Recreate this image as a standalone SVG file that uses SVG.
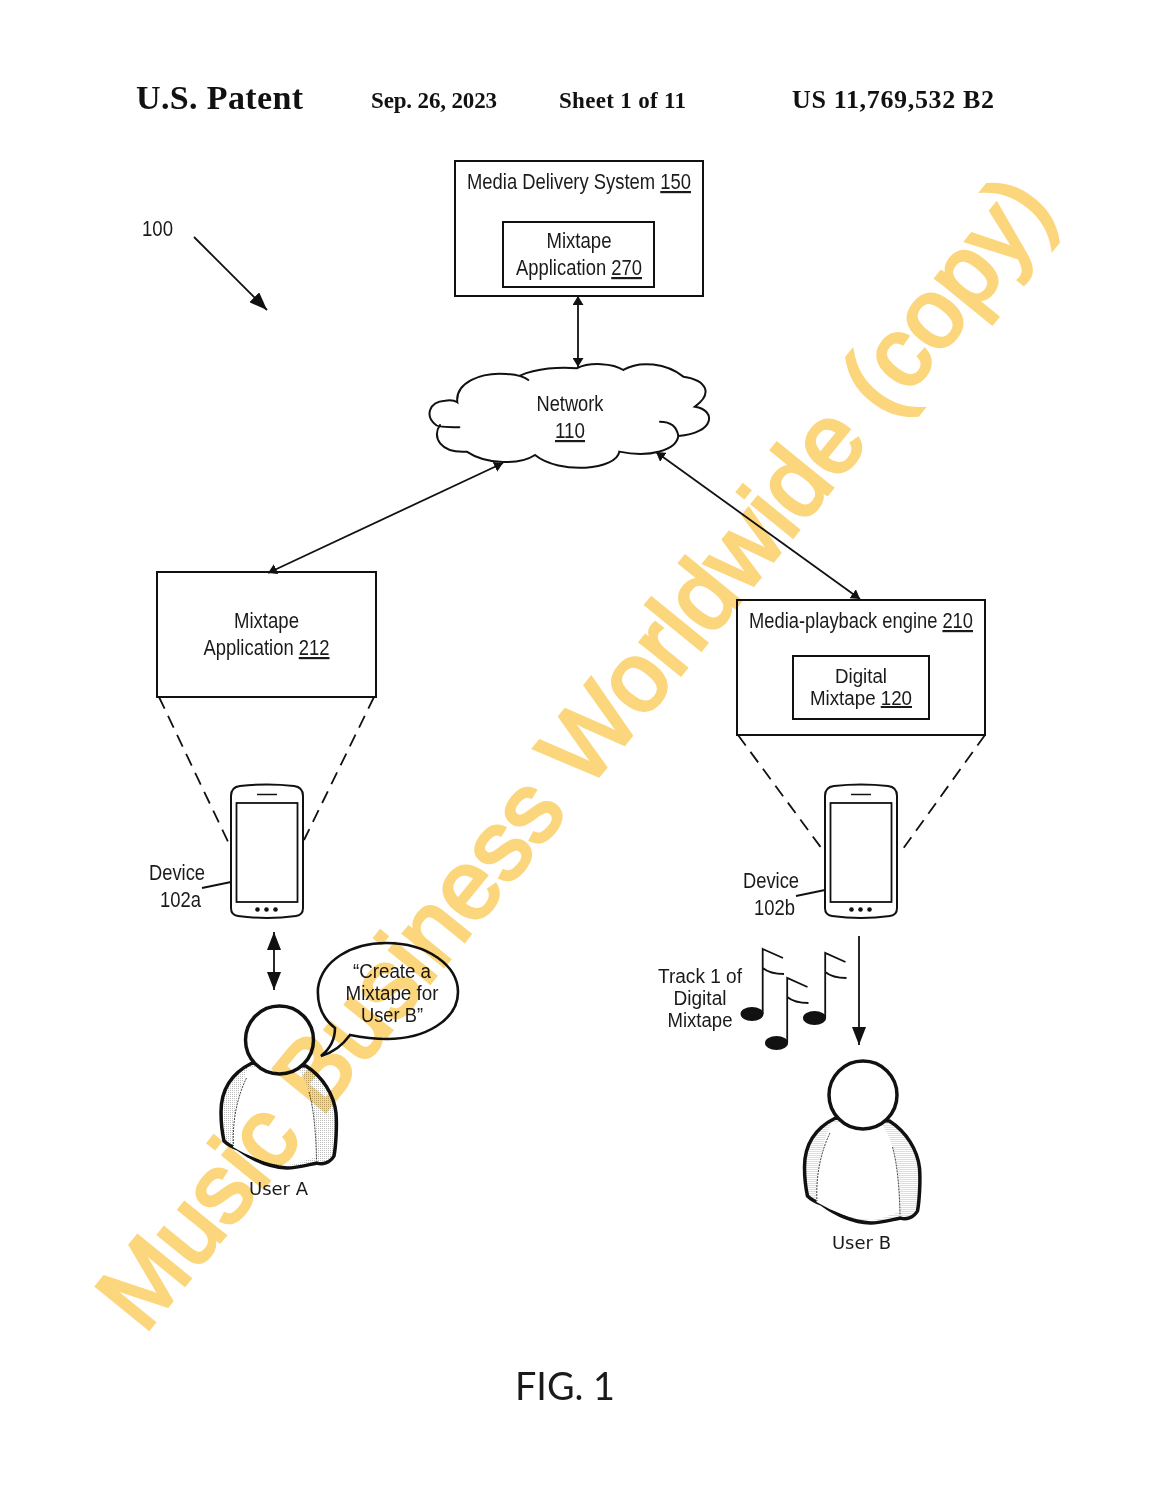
<svg xmlns="http://www.w3.org/2000/svg" xmlns:xlink="http://www.w3.org/1999/xlink" width="1152" height="1488" viewBox="0 0 1152 1488">
<style>
text{font-family:"Liberation Sans",Arial,sans-serif;fill:#1a1a1a;font-size:22px}
.m{text-anchor:middle}
.h{font-family:"Liberation Serif","Times New Roman",serif;font-weight:bold;fill:#111}
.t{font-family:"DejaVu Sans",Verdana,sans-serif;font-size:18px}
.u{text-decoration:underline}
.b{fill:none;stroke:#111;stroke-width:2}
.l{fill:none;stroke:#111;stroke-width:1.8}
.d{fill:none;stroke:#111;stroke-width:1.8;stroke-dasharray:13 8}
.wm{font-family:"Liberation Sans",Arial,sans-serif;font-size:98px;fill:#fbd67c;stroke:#fbd67c;stroke-width:3.500;mix-blend-mode:multiply}
</style>
<defs>
<pattern id="st" patternUnits="userSpaceOnUse" width="2" height="2"><rect width="2" height="2" fill="#fff"/><rect width="1" height="1" fill="#bdbdbd"/></pattern>
<marker id="s" markerUnits="userSpaceOnUse" markerWidth="10" markerHeight="11" refX="9" refY="5.500" orient="auto-start-reverse"><path d="M0 0L9 5.500L0 11z" fill="#111"/></marker>
<marker id="g" markerUnits="userSpaceOnUse" markerWidth="20" markerHeight="14" refX="18" refY="7" orient="auto-start-reverse"><path d="M0 0L18 7L0 14z" fill="#111"/></marker>
<g id="phone">
<path d="M231 796Q231 787 240 786Q267 783 294 786Q303 787 303 796V908Q303 915 296 916Q267 920 238 916Q231 915 231 908Z" fill="#fff" stroke="#111" stroke-width="2"/>
<rect x="236.500" y="803" width="61" height="99" fill="#fff" stroke="#111" stroke-width="1.800"/>
<path d="M257 794.500H277" stroke="#111" stroke-width="1.500"/>
<circle cx="257.500" cy="909.500" r="2.300" fill="#111"/><circle cx="266.500" cy="909.500" r="2.300" fill="#111"/><circle cx="275.500" cy="909.500" r="2.300" fill="#111"/>
</g>
<g id="person">
<path d="M252 1063C232 1073 221 1090 221 1112C221 1125 222 1132 224 1141C228 1145 232 1147 238 1149C250 1158 268 1167 287 1168C297 1168 307 1165 317 1163C322 1165 330 1163 334 1156C336 1145 337 1125 336 1113C334 1095 323 1077 306 1066Z" fill="url(#st)" stroke="#111" stroke-width="3.500" stroke-linejoin="round"/>
<path d="M248 1068C240 1085 232 1115 233 1147C250 1157 268 1164 287 1165C296 1165 305 1160 316 1157C316 1135 314 1105 309 1092C306 1080 300 1072 297 1066Z" fill="#fff"/>
<path d="M246.500 1078C238 1095 232 1120 233.500 1146" fill="none" stroke="#444" stroke-width="1" stroke-dasharray="2 1"/>
<path d="M309 1092C314 1110 316 1135 316.500 1160" fill="none" stroke="#444" stroke-width="1" stroke-dasharray="2 1"/>
<circle cx="279.500" cy="1040" r="34" fill="#fff" stroke="#111" stroke-width="3.500"/>
</g>
<g id="note"><ellipse cx="752" cy="1014" rx="11.500" ry="7" fill="#111"/><path d="M762.700 1014V949L783 958M762.700 968Q770 974 784 974" fill="none" stroke="#111" stroke-width="1.800"/></g>
</defs>
<g id="header">
<text class="h" x="136" y="109" style="font-size:34px" textLength="167">U.S. Patent</text>
<text class="h" x="371" y="108" style="font-size:23px" textLength="126">Sep. 26, 2023</text>
<text class="h" x="559" y="108" style="font-size:23px" textLength="127">Sheet 1 of 11</text>
<text class="h" x="792" y="108" style="font-size:26px" textLength="202">US 11,769,532 B2</text>
</g>
<g id="label-100"><text x="142" y="236" textLength="31" lengthAdjust="spacingAndGlyphs">100</text></g>
<g id="connectors">
<path class="l" d="M194 237L267 310" marker-end="url(#g)"/>
<path class="l" d="M578 296V367" marker-start="url(#s)" marker-end="url(#s)"/>
<path class="l" d="M268 573L503 463" marker-start="url(#s)" marker-end="url(#s)"/>
<path class="l" d="M656 452L860 599" marker-start="url(#s)" marker-end="url(#s)"/>
<path class="d" d="M159 697L231 848"/><path class="d" d="M374 697L304 840"/>
<path class="d" d="M738 735L825 853"/><path class="d" d="M985 735L900 853"/>
<path class="l" d="M274 932V990" marker-start="url(#g)" marker-end="url(#g)"/>
<path class="l" d="M859 936V1045" marker-end="url(#g)"/>
<path class="l" d="M202 888L231 882"/><path class="l" d="M796 896L825 890"/>
</g>
<g id="media-delivery-system">
<rect class="b" x="455" y="161" width="248" height="135"/>
<text x="467" y="189" textLength="224" lengthAdjust="spacingAndGlyphs">Media Delivery System <tspan class="u">150</tspan></text>
<rect class="b" x="503" y="222" width="151" height="65"/>
<text class="m" x="579" y="248" textLength="65" lengthAdjust="spacingAndGlyphs">Mixtape</text>
<text class="m" x="579" y="275" textLength="126" lengthAdjust="spacingAndGlyphs">Application <tspan class="u">270</tspan></text>
</g>
<g id="network">
<path transform="translate(420 150) scale(.3333)" fill="none" stroke="#111" stroke-width="6" stroke-linecap="round" d="M118 832C80 832 50 830 48 825C15 800 25 755 75 752C90 750 105 752 112 757C105 700 180 665 260 672C300 675 315 682 325 690M300 677C350 655 420 650 470 655C510 635 580 640 610 660C660 630 740 640 790 680C860 690 880 730 825 770C890 780 885 850 775 858C770 825 745 815 720 815M775 858C770 900 690 925 598 905C590 960 420 975 345 915C300 945 200 945 140 905C60 910 35 860 60 825"/>
<text class="m" x="570" y="411" textLength="67" lengthAdjust="spacingAndGlyphs">Network</text>
<text class="m u" x="570" y="438" textLength="30" lengthAdjust="spacingAndGlyphs">110</text>
</g>
<g id="mixtape-application-212">
<rect class="b" x="157" y="572" width="219" height="125"/>
<text class="m" x="266.500" y="628" textLength="65" lengthAdjust="spacingAndGlyphs">Mixtape</text>
<text class="m" x="266.500" y="655" textLength="126" lengthAdjust="spacingAndGlyphs">Application <tspan class="u">212</tspan></text>
</g>
<g id="media-playback-engine">
<rect class="b" x="737" y="600" width="248" height="135"/>
<text x="749" y="628" textLength="224" lengthAdjust="spacingAndGlyphs">Media-playback engine <tspan class="u">210</tspan></text>
<rect class="b" x="793" y="656" width="136" height="63"/>
<text class="m" x="861" y="683" style="font-size:20px" textLength="52" lengthAdjust="spacingAndGlyphs">Digital</text>
<text class="m" x="861" y="705" style="font-size:20px" textLength="102" lengthAdjust="spacingAndGlyphs">Mixtape <tspan class="u">120</tspan></text>
</g>
<g id="device-102a">
<use xlink:href="#phone"/>
<text x="149" y="880" textLength="56" lengthAdjust="spacingAndGlyphs">Device</text>
<text x="160" y="907" textLength="41" lengthAdjust="spacingAndGlyphs">102a</text>
</g>
<g id="device-102b">
<use xlink:href="#phone" transform="translate(594 0)"/>
<text x="743" y="888" textLength="56" lengthAdjust="spacingAndGlyphs">Device</text>
<text x="754" y="915" textLength="41" lengthAdjust="spacingAndGlyphs">102b</text>
</g>
<g id="user-a">
<use xlink:href="#person"/>
<text class="t m" x="278.500" y="1195">User A</text>
</g>
<g id="speech-bubble">
<path d="M321 1056C331 1048 335 1038 335 1028C322 1018 317 1003 318 988C322 960 352 943 386 943C428 943 458 966 458 992C458 1020 425 1039 387 1039C372 1039 360 1037 350 1035C342 1046 332 1053 321 1056Z" fill="#fff" stroke="#111" stroke-width="2.600"/>
<text class="m" x="392" y="978" style="font-size:20px" textLength="78" lengthAdjust="spacingAndGlyphs">“Create a</text>
<text class="m" x="392" y="1000" style="font-size:20px" textLength="93" lengthAdjust="spacingAndGlyphs">Mixtape for</text>
<text class="m" x="392" y="1022" style="font-size:20px" textLength="62" lengthAdjust="spacingAndGlyphs">User B”</text>
</g>
<g id="track-1">
<text class="m" x="700" y="983" style="font-size:20px" textLength="84" lengthAdjust="spacingAndGlyphs">Track 1 of</text>
<text class="m" x="700" y="1005" style="font-size:20px" textLength="53" lengthAdjust="spacingAndGlyphs">Digital</text>
<text class="m" x="700" y="1027" style="font-size:20px" textLength="65" lengthAdjust="spacingAndGlyphs">Mixtape</text>
<use xlink:href="#note"/>
<use xlink:href="#note" transform="translate(24.500 29)"/>
<use xlink:href="#note" transform="translate(62.500 4)"/>
</g>
<g id="user-b">
<use xlink:href="#person" transform="translate(583.500 55)"/>
<text class="t m" x="861.500" y="1249">User B</text>
</g>
<g id="fig"><text class="m" x="565" y="1400" style="font-family:Lato,'Open Sans',sans-serif;font-size:38px" textLength="100" lengthAdjust="spacingAndGlyphs">FIG. 1</text></g>
<text class="wm" transform="translate(144 1335) rotate(-50.900)" textLength="1448" lengthAdjust="spacingAndGlyphs">Music Business Worldwide (copy)</text>
</svg>
